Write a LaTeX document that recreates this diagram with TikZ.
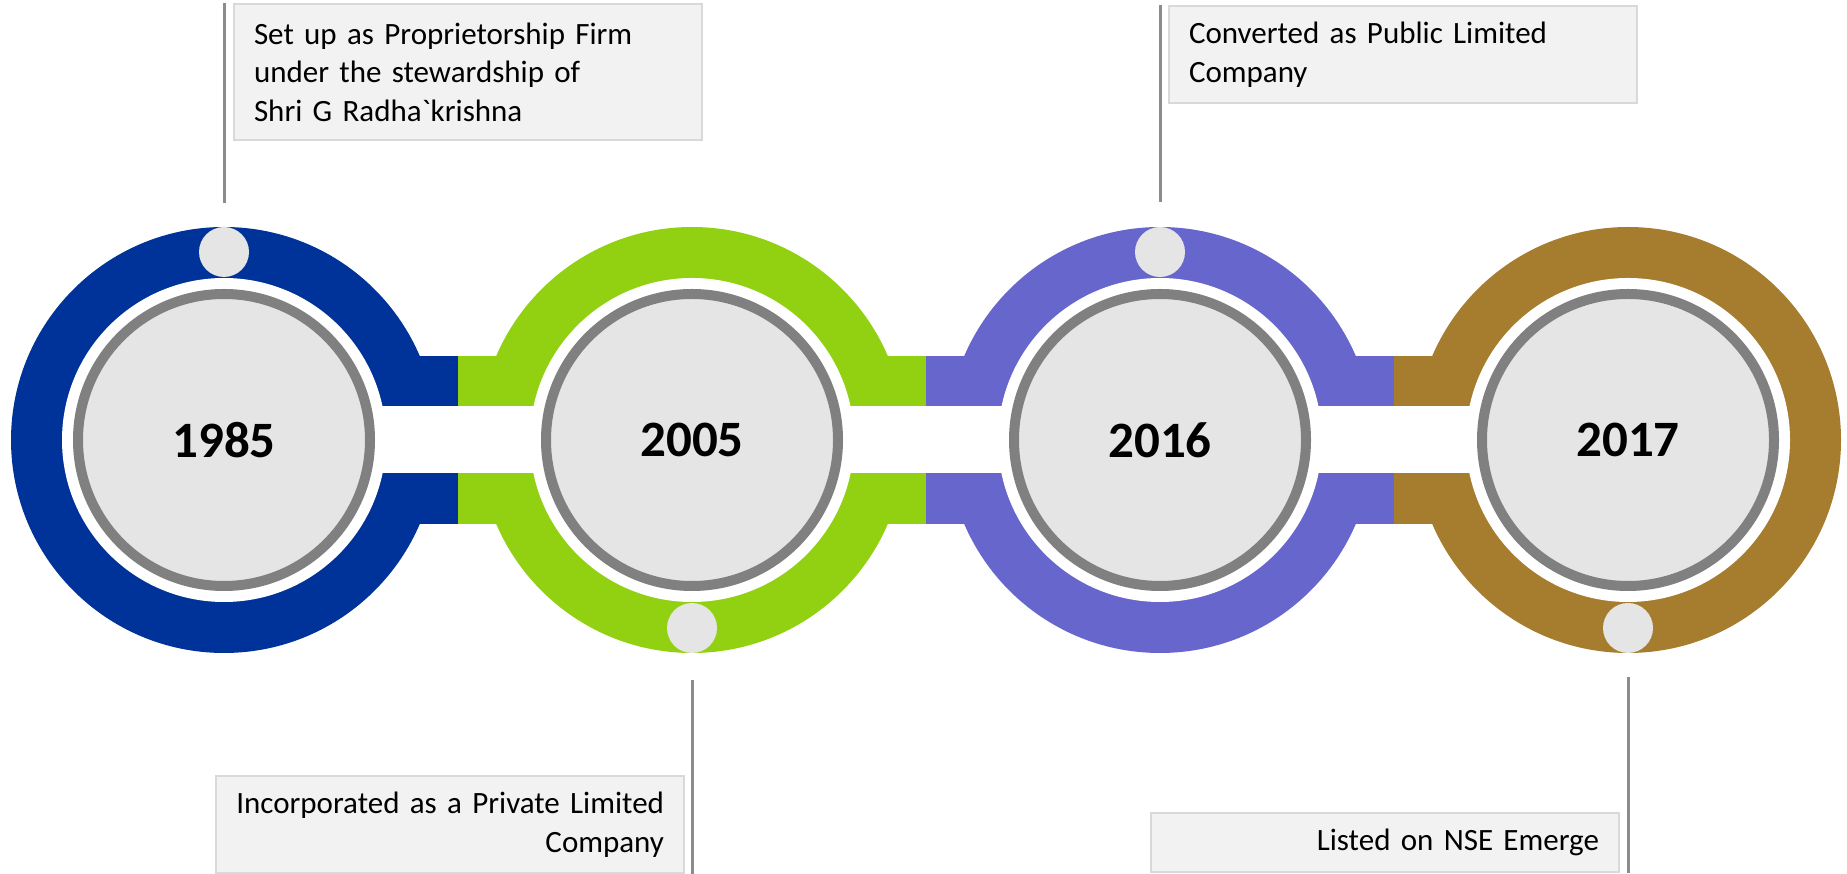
\documentclass[tikz,border=0pt]{standalone}
\usepackage{fontspec}
\setmainfont{Carlito}
\definecolor{ringblue}{RGB}{0,51,153}
\definecolor{ringgreen}{RGB}{146,208,18}
\definecolor{ringpurple}{RGB}{102,102,204}
\definecolor{ringbrown}{RGB}{166,124,46}
\definecolor{discgray}{RGB}{229,229,229}
\definecolor{boxgray}{RGB}{242,242,242}
\definecolor{boxline}{RGB}{217,217,217}
\definecolor{stemgray}{RGB}{140,140,140}
\tikzset{
    year/.style={circle, draw={rgb,255:red,128;green,128;blue,128}, line width=10bp, fill=discgray,
        minimum size=292bp, inner sep=0pt, font=\fontsize{51bp}{60bp}\selectfont\bfseries},
    dot/.style={circle, fill=discgray, minimum size=50bp, inner sep=0pt},
    note/.style={draw=boxline, fill=boxgray, line width=1.5bp, minimum width=468bp,
        inner xsep=20bp, text width=428bp, font=\fontsize{31bp}{38.5bp}\selectfont},
    stem/.style={draw=stemgray, line width=3bp}
}
\begin{document}
\begin{tikzpicture}[x=1bp, y=1bp]
                \useasboundingbox (0,0) rectangle (1847,874);
                
                \fill[ringblue] (224,434) circle (213);
                \fill[ringgreen] (692,434) circle (213);
                \fill[ringpurple] (1160,434) circle (213);
                \fill[ringbrown] (1628,434) circle (213);
                
                \fill[ringblue] (224,350) rectangle (458,518);
                \fill[ringgreen] (458,350) rectangle (926,518);
                \fill[ringpurple] (926,350) rectangle (1394,518);
                \fill[ringbrown] (1394,350) rectangle (1628,518);
                \fill[white] (224,400.5) rectangle (1628,467.5);
                
                \fill[white] (224,434) circle (162);
                \fill[white] (692,434) circle (162);
                \fill[white] (1160,434) circle (162);
                \fill[white] (1628,434) circle (162);
                
                \node[year] (y1985) at (224,434) {1985};
                \node[year] (y2005) at (692,434) {2005};
                \node[year] (y2016) at (1160,434) {2016};
                \node[year] (y2017) at (1628,434) {2017};
                
                \node[dot] (d1985) at (224,622) {};
                \node[dot] (d2005) at (692,246) {};
                \node[dot] (d2016) at (1160,622) {};
                \node[dot] (d2017) at (1628,246) {};
                
                \node[note, minimum height=136bp, align=left] (n1985) at (468,802)
                    {Set up as Proprietorship Firm\\under the stewardship of\\Shri G Radha\textasciigrave krishna};
                \node[note, minimum height=97bp, align=right] (n2005) at (450,49.5)
                    {Incorporated as a Private Limited\\Company};
                \node[note, minimum height=97bp, align=left] (n2016) at (1403,819.5)
                    {Converted as Public Limited\\Company};
                \node[note, minimum height=59bp, align=right] (n2017) at (1385,31.5)
                    {Listed on NSE Emerge};
                
                \draw[stem] ([yshift=24bp]d1985.north) -- (d1985 |- n1985.north);
                \draw[stem] ([yshift=-27bp]d2005.south) -- (d2005 |- n2005.south);
                \draw[stem] ([yshift=25bp]d2016.north) -- (d2016 |- n2016.north);
                \draw[stem] ([yshift=-24bp]d2017.south) -- (d2017 |- n2017.south);
            \end{tikzpicture}
\end{document}
